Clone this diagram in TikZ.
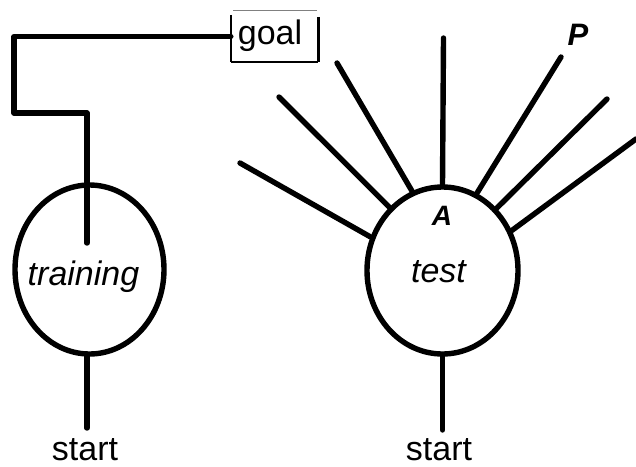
\documentclass[tikz,border=0pt]{standalone}
\usepackage{fontspec}
\setmainfont{Liberation Sans}
\usetikzlibrary{shapes.geometric}

\tikzset{
  stroke/.style={line width=5.4pt, line cap=round, line join=round},
  region/.style={ellipse, draw, line width=5.4pt, inner sep=0pt},
  lbl/.style={anchor=base, inner sep=0pt, font=\fontsize{34}{40}\selectfont},
  ilbl/.style={lbl, font=\fontsize{34}{40}\selectfont\itshape},
  blbl/.style={anchor=base, inner sep=0pt, font=\fontsize{30}{36}\selectfont\bfseries\itshape},
}

\begin{document}
\begin{tikzpicture}[x=1pt, y=-1pt]
  \useasboundingbox (0,0) rectangle (636,466);

  % the two regions
  \node[region, minimum width=149pt, minimum height=169pt] (training) at (89.5,269.5) {};
  \node[region, minimum width=151pt, minimum height=167pt] (test) at (442.5,270.5) {};

  % goal box, drawn edge by edge
  \node[minimum width=87pt, minimum height=51pt, inner sep=0pt] (goal) at (274.5,36.5) {};
  \node[lbl] (goaltxt) at (270,44) {goal};
  \draw[line width=1.2pt, gray] ([xshift=2pt]goal.north west) -- ([xshift=-1pt]goal.north east);
  \draw[line width=1.6pt] ([yshift=-4pt]goal.north west) -- (goal.south west);
  \draw[line width=2.4pt] (goal.south west) -- (goal.south east);
  \draw[line width=3.4pt] ([yshift=-6pt]goal.north east) -- (goal.south east);

  % training: path from inside the region to the goal
  \coordinate (tin) at (87,243);
  \coordinate (bendA) at (14,113);
  \draw[stroke] (tin) |- (bendA) |- (goal.west);

  % start lines
  \coordinate (s1) at (87,428);
  \coordinate (s2) at (442.5,430);
  \draw[stroke] (s1) -- (s1 |- training.south);
  \draw[stroke] (s2) -- (test.south);

  % rays leaving the test region
  \coordinate (r1) at (240,163);
  \coordinate (r2) at (279,97);
  \coordinate (r3) at (337,63);
  \coordinate (r4) at (443.5,38);
  \coordinate (r5) at (561,57);
  \coordinate (r6) at (607,99);
  \coordinate (r7) at (636,139);
  \draw[stroke] (test.155) -- (r1);
  \draw[stroke] (test.130) -- (r2);
  \draw[stroke] (test.111) -- (r3);
  \draw[stroke] (test.north) -- (r4);
  \draw[stroke] (test.66) -- (r5);
  \draw[stroke] (test.49) -- (r6);
  \draw[stroke] (test.30) -- (r7);

  % labels
  \node[ilbl] (ltrain) at (83.5,285) {training};
  \node[ilbl] (ltest) at (438.5,282) {test};
  \node[blbl, font=\fontsize{28}{34}\selectfont\bfseries\itshape] (lA) at (442,225) {A};
  \node[blbl, font=\fontsize{31}{36}\selectfont\bfseries\itshape] (lP) at (578,45) {P};
  \node[lbl] (start1) at (85,460) {start};
  \node[lbl] (start2) at (439,460) {start};
\end{tikzpicture}
\end{document}
